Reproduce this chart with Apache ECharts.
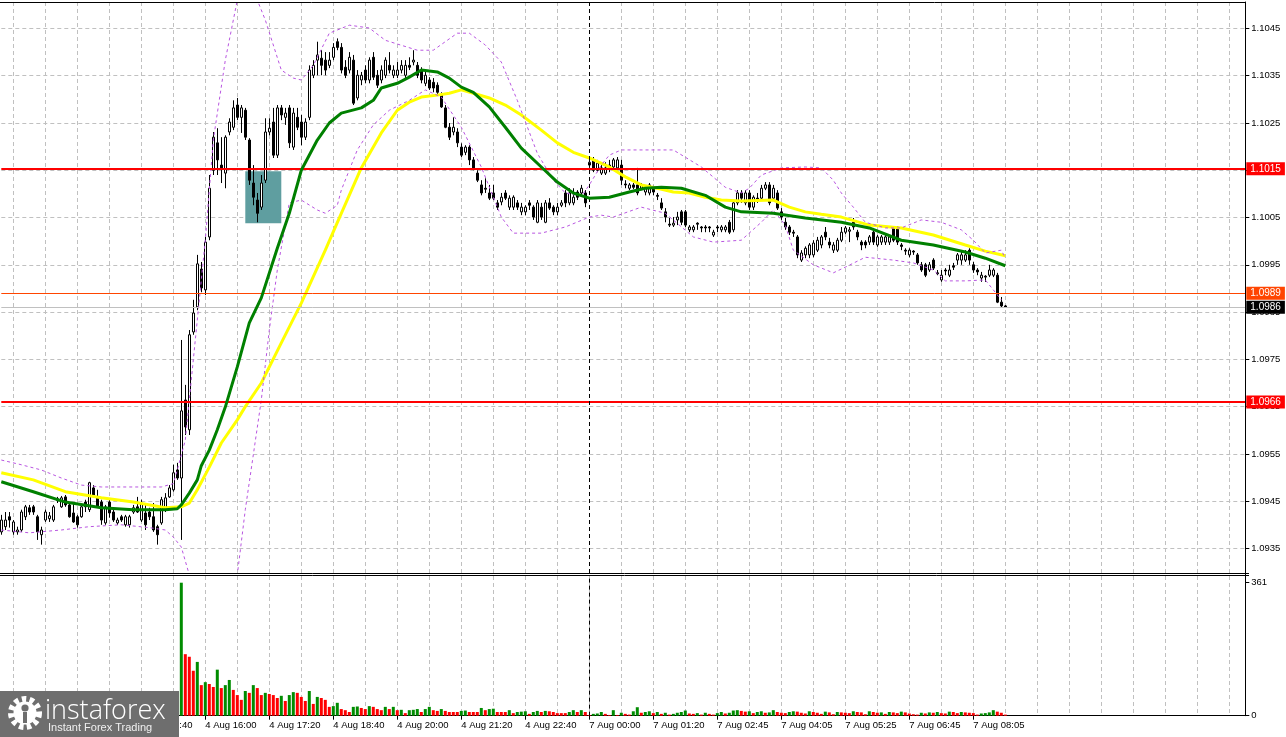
<!DOCTYPE html>
<html><head><meta charset="utf-8">
<script src="https://cdn.jsdelivr.net/npm/echarts@6/dist/echarts.min.js"></script>
<style>html,body{margin:0;padding:0;background:#fff;}#c{width:1286px;height:737px;}</style>
</head><body><div id="c"></div>
<script>
// ---- data (EURUSD M5, 4 Aug 11:45 .. 7 Aug 08:45) ----
const opens = [
1.09385,1.09396,1.09417,1.09385,1.09385,1.09389,1.09417,1.09436,1.09438,1.09417,
1.09379,1.09410,1.09413,1.09410,1.09455,1.09438,1.09459,1.09442,1.09425,1.09417,
1.09417,1.09448,1.09432,1.09478,1.09459,1.09448,1.09404,1.09448,1.09427,1.09404,
1.09417,1.09400,1.09400,1.09427,1.09438,1.09410,1.09425,1.09427,1.09417,1.09396,
1.09404,1.09432,1.09459,1.09474,1.09516,1.09499,1.09664,1.09601,1.09808,1.09861,
1.09941,1.09897,1.10009,1.10150,1.10208,1.10161,1.10144,1.10231,1.10241,1.10288,
1.10262,1.10277,1.10214,1.10123,1.10087,1.10072,1.10129,1.10231,1.10252,1.10182,
1.10282,1.10262,1.10282,1.10199,1.10262,1.10252,1.10220,1.10262,1.10351,1.10383,
1.10387,1.10383,1.10372,1.10389,1.10422,1.10410,1.10368,1.10362,1.10383,1.10303,
1.10341,1.10362,1.10341,1.10389,1.10351,1.10341,1.10351,1.10372,1.10351,1.10351,
1.10362,1.10351,1.10372,1.10379,1.10372,1.10362,1.10334,1.10341,1.10336,1.10330,
1.10309,1.10282,1.10241,1.10231,1.10231,1.10199,1.10188,1.10199,1.10172,1.10144,
1.10119,1.10112,1.10102,1.10102,1.10081,1.10083,1.10102,1.10072,1.10072,1.10081,
1.10062,1.10062,1.10081,1.10072,1.10040,1.10072,1.10040,1.10081,1.10072,1.10062,
1.10076,1.10102,1.10081,1.10081,1.10104,1.10102,1.10102,1.10161,1.10172,1.10150,
1.10144,1.10144,1.10161,1.10157,1.10155,1.10161,1.10121,1.10112,1.10119,1.10119,
1.10112,1.10104,1.10102,1.10112,1.10097,1.10081,1.10062,1.10036,1.10034,1.10045,
1.10062,1.10062,1.10024,1.10024,1.10038,1.10030,1.10030,1.10030,1.10013,1.10030,
1.10024,1.10024,1.10040,1.10024,1.10081,1.10102,1.10081,1.10102,1.10072,1.10091,
1.10091,1.10112,1.10119,1.10091,1.10102,1.10062,1.10040,1.10030,1.10019,1.10009,
1.09960,1.09971,1.09971,1.09971,1.09981,1.09992,1.10019,1.09998,1.09981,1.09981,
1.10002,1.10019,1.10021,1.10040,1.10019,1.09998,1.09998,1.09998,1.10019,1.09992,
1.09998,1.09998,1.09998,1.10030,1.10030,1.09992,1.09981,1.09971,1.09979,1.09971,
1.09950,1.09950,1.09939,1.09960,1.09933,1.09918,1.09939,1.09928,1.09948,1.09960,
1.09960,1.09960,1.09981,1.09950,1.09939,1.09922,1.09926,1.09928,1.09928,1.09928,
1.09871,1.09863];
const closes = [
1.09410,1.09410,1.09410,1.09406,1.09389,1.09427,1.09438,1.09427,1.09427,1.09385,
1.09389,1.09427,1.09419,1.09438,1.09451,1.09457,1.09442,1.09417,1.09406,1.09400,
1.09438,1.09438,1.09489,1.09463,1.09438,1.09410,1.09438,1.09425,1.09410,1.09410,
1.09410,1.09417,1.09417,1.09436,1.09427,1.09446,1.09400,1.09417,1.09389,1.09379,
1.09453,1.09457,1.09478,1.09510,1.09499,1.09641,1.09607,1.09802,1.09848,1.09952,
1.09901,1.09998,1.10112,1.10220,1.10172,1.10155,1.10220,1.10252,1.10282,1.10262,
1.10282,1.10220,1.10129,1.10093,1.10059,1.10123,1.10231,1.10239,1.10182,1.10282,
1.10267,1.10271,1.10208,1.10271,1.10241,1.10220,1.10252,1.10362,1.10372,1.10394,
1.10372,1.10362,1.10383,1.10410,1.10410,1.10362,1.10351,1.10389,1.10292,1.10351,
1.10351,1.10341,1.10383,1.10347,1.10330,1.10362,1.10383,1.10362,1.10362,1.10362,
1.10372,1.10372,1.10368,1.10383,1.10351,1.10341,1.10351,1.10324,1.10324,1.10315,
1.10284,1.10241,1.10220,1.10241,1.10208,1.10182,1.10199,1.10172,1.10155,1.10129,
1.10102,1.10110,1.10091,1.10091,1.10072,1.10093,1.10091,1.10091,1.10093,1.10072,
1.10072,1.10072,1.10076,1.10051,1.10081,1.10051,1.10081,1.10070,1.10062,1.10072,
1.10081,1.10081,1.10102,1.10093,1.10093,1.10112,1.10081,1.10167,1.10150,1.10165,
1.10155,1.10155,1.10153,1.10172,1.10172,1.10129,1.10119,1.10119,1.10114,1.10102,
1.10119,1.10112,1.10119,1.10104,1.10095,1.10070,1.10051,1.10034,1.10038,1.10051,
1.10040,1.10034,1.10030,1.10030,1.10036,1.10028,1.10028,1.10028,1.10019,1.10028,
1.10030,1.10030,1.10019,1.10081,1.10102,1.10091,1.10102,1.10072,1.10093,1.10089,
1.10112,1.10119,1.10081,1.10112,1.10070,1.10051,1.10030,1.10019,1.10017,1.09971,
1.09975,1.09985,1.09992,1.09996,1.10002,1.10009,1.10009,1.09992,1.09992,1.10002,
1.10019,1.10028,1.10024,1.10030,1.10009,1.09992,1.09992,1.10009,1.09998,1.10009,
1.10009,1.10009,1.10009,1.10002,1.09998,1.09989,1.09979,1.09981,1.09977,1.09954,
1.09939,1.09928,1.09950,1.09943,1.09931,1.09928,1.09937,1.09939,1.09945,1.09971,
1.09971,1.09971,1.09960,1.09939,1.09935,1.09928,1.09924,1.09939,1.09939,1.09871,
1.09863,1.09860];
const highs = [
1.09421,1.09427,1.09427,1.09410,1.09396,1.09432,1.09442,1.09442,1.09442,1.09421,
1.09396,1.09432,1.09427,1.09442,1.09459,1.09461,1.09463,1.09446,1.09446,1.09421,
1.09442,1.09453,1.09491,1.09484,1.09474,1.09453,1.09442,1.09453,1.09436,1.09415,
1.09421,1.09421,1.09421,1.09442,1.09459,1.09453,1.09446,1.09436,1.09446,1.09400,
1.09459,1.09467,1.09484,1.09527,1.09531,1.09791,1.09696,1.09812,1.09876,1.09971,
1.09956,1.10009,1.10140,1.10231,1.10239,1.10220,1.10224,1.10260,1.10298,1.10303,
1.10288,1.10282,1.10218,1.10161,1.10102,1.10140,1.10260,1.10260,1.10282,1.10288,
1.10288,1.10282,1.10288,1.10282,1.10282,1.10267,1.10260,1.10372,1.10383,1.10422,
1.10404,1.10400,1.10400,1.10419,1.10429,1.10419,1.10383,1.10400,1.10394,1.10362,
1.10358,1.10372,1.10389,1.10400,1.10362,1.10372,1.10389,1.10400,1.10372,1.10379,
1.10383,1.10383,1.10389,1.10404,1.10379,1.10368,1.10358,1.10347,1.10345,1.10336,
1.10315,1.10288,1.10250,1.10262,1.10239,1.10207,1.10203,1.10203,1.10178,1.10150,
1.10129,1.10133,1.10119,1.10119,1.10087,1.10102,1.10108,1.10097,1.10097,1.10087,
1.10081,1.10076,1.10087,1.10076,1.10087,1.10081,1.10087,1.10091,1.10076,1.10081,
1.10087,1.10108,1.10112,1.10112,1.10108,1.10119,1.10108,1.10172,1.10178,1.10172,
1.10161,1.10167,1.10172,1.10176,1.10178,1.10172,1.10129,1.10123,1.10123,1.10155,
1.10123,1.10117,1.10123,1.10117,1.10102,1.10091,1.10070,1.10049,1.10051,1.10062,
1.10066,1.10066,1.10034,1.10034,1.10040,1.10032,1.10034,1.10032,1.10024,1.10034,
1.10034,1.10034,1.10045,1.10087,1.10108,1.10108,1.10108,1.10108,1.10097,1.10102,
1.10119,1.10125,1.10125,1.10119,1.10108,1.10070,1.10049,1.10034,1.10024,1.10013,
1.09981,1.09989,1.09996,1.10002,1.10009,1.10013,1.10030,1.10007,1.09998,1.10007,
1.10030,1.10032,1.10030,1.10049,1.10024,1.10002,1.10002,1.10013,1.10028,1.10013,
1.10013,1.10013,1.10013,1.10032,1.10032,1.09996,1.09985,1.09985,1.09981,1.09975,
1.09956,1.09954,1.09956,1.09964,1.09939,1.09939,1.09943,1.09950,1.09954,1.09975,
1.09977,1.09981,1.09985,1.09956,1.09943,1.09935,1.09928,1.09950,1.09943,1.09933,
1.09882,1.09865];
const lows = [
1.09379,1.09389,1.09394,1.09379,1.09379,1.09385,1.09410,1.09421,1.09421,1.09368,
1.09358,1.09406,1.09406,1.09406,1.09446,1.09436,1.09438,1.09415,1.09404,1.09394,
1.09415,1.09427,1.09427,1.09459,1.09436,1.09400,1.09400,1.09415,1.09406,1.09400,
1.09406,1.09396,1.09394,1.09423,1.09425,1.09406,1.09389,1.09410,1.09385,1.09358,
1.09400,1.09427,1.09457,1.09470,1.09495,1.09368,1.09590,1.09590,1.09802,1.09854,
1.09892,1.09886,1.10002,1.10140,1.10140,1.10123,1.10112,1.10224,1.10235,1.10256,
1.10229,1.10214,1.10119,1.10076,1.10040,1.10066,1.10123,1.10224,1.10176,1.10176,
1.10256,1.10246,1.10197,1.10193,1.10235,1.10203,1.10214,1.10256,1.10345,1.10351,
1.10351,1.10351,1.10366,1.10383,1.10404,1.10355,1.10345,1.10355,1.10288,1.10298,
1.10330,1.10334,1.10334,1.10341,1.10324,1.10334,1.10345,1.10355,1.10345,1.10345,
1.10355,1.10345,1.10362,1.10372,1.10345,1.10334,1.10328,1.10320,1.10315,1.10309,
1.10282,1.10239,1.10214,1.10224,1.10199,1.10178,1.10182,1.10161,1.10150,1.10125,
1.10097,1.10102,1.10087,1.10087,1.10066,1.10076,1.10087,1.10066,1.10066,1.10066,
1.10055,1.10055,1.10066,1.10045,1.10038,1.10045,1.10038,1.10066,1.10055,1.10055,
1.10072,1.10072,1.10076,1.10076,1.10087,1.10097,1.10072,1.10155,1.10146,1.10146,
1.10140,1.10140,1.10146,1.10150,1.10150,1.10119,1.10112,1.10108,1.10110,1.10097,
1.10108,1.10097,1.10097,1.10097,1.10087,1.10066,1.10040,1.10030,1.10030,1.10034,
1.10034,1.10030,1.10019,1.10019,1.10024,1.10019,1.10019,1.10019,1.10009,1.10019,
1.10019,1.10019,1.10015,1.10019,1.10076,1.10081,1.10076,1.10066,1.10066,1.10081,
1.10087,1.10108,1.10076,1.10087,1.10066,1.10045,1.10024,1.10013,1.10009,1.09964,
1.09956,1.09964,1.09964,1.09966,1.09977,1.09985,1.10002,1.09985,1.09975,1.09977,
1.09998,1.10015,1.09998,1.10024,1.10002,1.09981,1.09985,1.09992,1.09992,1.09988,
1.09992,1.09992,1.09992,1.09998,1.09992,1.09981,1.09971,1.09966,1.09971,1.09950,
1.09935,1.09924,1.09935,1.09939,1.09928,1.09914,1.09928,1.09924,1.09939,1.09950,
1.09950,1.09956,1.09950,1.09933,1.09928,1.09914,1.09914,1.09924,1.09924,1.09869,
1.09859,1.09859];
const volumes = [
22,18,25,15,12,30,28,20,17,35,26,19,14,31,27,22,18,29,33,24,21,16,40,28,25,30,22,18,15,12,
10,14,13,17,20,26,24,19,31,38,35,29,33,45,52,
361,
167,160,122,146,83,91,86,78,125,75,
83,97,70,56,43,67,62,83,75,56,
62,59,56,48,54,40,56,64,62,51,
40,67,32,51,48,43,24,26,35,18,
15,10,24,25,21,18,26,24,18,15,
24,18,24,15,16,7,15,16,18,10,
18,24,15,13,18,13,10,10,10,13,
14,10,10,10,21,15,18,19,10,10,
10,15,7,10,11,12,5,10,13,10,
13,12,10,7,7,7,10,15,10,15,
10,2,5,6,10,5,2,15,2,
8,5,3,12,23,8,10,12,7,10,
5,8,3,5,8,10,14,6,5,7,
3,8,5,3,7,10,6,8,14,15,
13,11,12,7,10,12,8,9,15,10,
8,7,10,12,11,8,6,12,10,8,
5,11,9,4,10,9,8,7,12,10,
9,4,12,10,8,9,5,10,9,7,
11,9,6,4,3,8,6,9,8,10,
7,6,11,10,7,10,9,8,7,3,
6,7,9,15,11,8,3];
// moving averages / bands: [bar index, price]
const maGreen = [[0,1.09491],[8,1.09470],[16,1.09448],[25,1.09436],[33,1.09432],[41,1.09432],[44,1.09434],[45,1.09442],[47,1.09467],[49,1.09495],[50,1.09525],[52,1.09558],[54,1.09601],[56,1.09649],[59,1.09734],[62,1.09827],[65,1.09880],[69,1.09985],[72,1.10059],[75,1.10150],[79,1.10214],[82,1.10250],[85,1.10271],[90,1.10282],[93,1.10298],[95,1.10324],[99,1.10334],[102,1.10347],[105,1.10362],[109,1.10358],[112,1.10345],[115,1.10326],[118,1.10315],[122,1.10284],[126,1.10241],[130,1.10197],[135,1.10157],[139,1.10125],[143,1.10102],[147,1.10091],[152,1.10093],[157,1.10104],[161,1.10112],[165,1.10114],[170,1.10112],[176,1.10097],[181,1.10072],[185,1.10062],[193,1.10059],[201,1.10049],[210,1.10040],[217,1.10028],[225,1.10002],[233,1.09992],[241,1.09977],[246,1.09964],[251,1.09948]];
const maYellow = [[0,1.09510],[8,1.09495],[16,1.09470],[25,1.09457],[33,1.09448],[41,1.09436],[45,1.09438],[47,1.09446],[49,1.09474],[52,1.09522],[55,1.09573],[59,1.09622],[61,1.09650],[65,1.09700],[70,1.09785],[75,1.09869],[81,1.09981],[85,1.10059],[90,1.10155],[95,1.10229],[99,1.10277],[102,1.10294],[105,1.10305],[109,1.10309],[112,1.10313],[115,1.10320],[118,1.10313],[122,1.10303],[126,1.10288],[130,1.10267],[135,1.10235],[139,1.10208],[143,1.10188],[147,1.10176],[152,1.10157],[156,1.10136],[160,1.10119],[164,1.10112],[168,1.10104],[172,1.10102],[176,1.10093],[180,1.10087],[185,1.10085],[193,1.10087],[197,1.10072],[201,1.10062],[205,1.10057],[210,1.10051],[217,1.10034],[225,1.10028],[233,1.10013],[241,1.09992],[246,1.09979],[251,1.09969]];
const bbUpper = [[0,1.09537],[5,1.09527],[10,1.09516],[15,1.09499],[20,1.09484],[25,1.09480],[32,1.09480],[40,1.09480],[43,1.09487],[44,1.09516],[46,1.09579],[48,1.09749],[51,1.10002],[53,1.10214],[56,1.10383],[59,1.10510],[61,1.10552],[63,1.10531],[66,1.10468],[68,1.10415],[70,1.10362],[73,1.10345],[75,1.10341],[78,1.10372],[82,1.10440],[87,1.10457],[92,1.10451],[96,1.10425],[104,1.10404],[108,1.10404],[111,1.10422],[114,1.10440],[117,1.10440],[121,1.10415],[125,1.10379],[129,1.10298],[134,1.10186],[138,1.10129],[141,1.10102],[145,1.10095],[147,1.10119],[150,1.10161],[152,1.10182],[155,1.10193],[168,1.10193],[175,1.10157],[181,1.10114],[185,1.10102],[187,1.10112],[190,1.10140],[195,1.10155],[201,1.10157],[205,1.10155],[208,1.10129],[210,1.10102],[213,1.10072],[216,1.10040],[221,1.10028],[225,1.10028],[230,1.10045],[235,1.10040],[240,1.10024],[243,1.10002],[246,1.09975],[250,1.09981],[251,1.09964]];
const bbLower = [[0,1.09389],[7,1.09383],[15,1.09389],[22,1.09396],[30,1.09400],[37,1.09394],[41,1.09389],[43,1.09374],[45,1.09353],[47,1.09294],[50,1.09199],[53,1.09030],[57,1.09072],[59,1.09294],[61,1.09432],[63,1.09548],[65,1.09664],[67,1.09812],[69,1.09939],[72,1.10081],[75,1.10087],[79,1.10066],[81,1.10059],[84,1.10076],[85,1.10108],[89,1.10193],[93,1.10246],[97,1.10277],[102,1.10298],[106,1.10320],[110,1.10305],[115,1.10241],[120,1.10157],[125,1.10051],[128,1.10017],[135,1.10017],[141,1.10030],[147,1.10051],[150,1.10055],[153,1.10051],[160,1.10072],[166,1.10059],[173,1.10009],[178,1.09998],[185,1.10002],[190,1.10040],[193,1.10066],[196,1.10034],[198,1.09981],[203,1.09950],[208,1.09933],[211,1.09945],[216,1.09966],[223,1.09960],[228,1.09954],[233,1.09939],[236,1.09916],[241,1.09916],[246,1.09918],[250,1.09876]];
const priceTicks = [1.0935,1.0945,1.0955,1.0965,1.0975,1.0985,1.0995,1.1005,1.1015,1.1025,1.1035,1.1045];
const volumeTicks = [0, 361];
const timeLabels = ['4 Aug 12:00','4 Aug 13:20','4 Aug 14:40','4 Aug 16:00','4 Aug 17:20','4 Aug 18:40','4 Aug 20:00','4 Aug 21:20','4 Aug 22:40','7 Aug 00:00','7 Aug 01:20','7 Aug 02:45','7 Aug 04:05','7 Aug 05:25','7 Aug 06:45','7 Aug 08:05'];
const levelRed = [1.10153, 1.0966];
const levelOrange = 1.0989;
const levelBid = 1.0986;
const zoneBox = {fromBar: 61, toBar: 70, top: 1.10148, bottom: 1.10038};
const separatorBar = 147;
const totalSlots = 312;

// ---- build ----
const FONT = 'Liberation Sans';
const cats = []; for (let i = 0; i < totalSlots; i++) cats.push(String(i));
const candleData = opens.map((o, i) => [o, closes[i], lows[i], highs[i]]);
const volData = volumes.map((v, i) => ({value: v, itemStyle: {color: (i === 0 || v > volumes[i - 1]) ? '#008c00' : '#ff0000'}}));
const gridIv = (i) => (i - 3) % 8 === 0;
const labIv = (i) => i >= 3 && (i - 3) % 16 === 0 && (i - 3) / 16 < timeLabels.length;
const tag = (bg) => ({show: true, position: 'end', distance: 1, color: '#fff', backgroundColor: bg, padding: [2, 4, 1, 4], fontFamily: FONT, fontSize: 10, formatter: (p) => Number(p.value).toFixed(4)});
const gridLine = {show: true, lineStyle: {color: '#c0c0c0', type: [4, 3], width: 1}};

const chart = echarts.init(document.getElementById('c'), null, {renderer: 'canvas'});
chart.setOption({
  animation: false,
  backgroundColor: '#ffffff',
  grid: [
    {left: 1.3, top: 2, width: 1244, height: 571},
    {left: 1.3, top: 576, width: 1244, height: 139.7}
  ],
  xAxis: [
    {type: 'category', gridIndex: 0, data: cats, boundaryGap: false,
     axisLine: {show: false}, axisTick: {show: false}, axisLabel: {show: false},
     splitLine: Object.assign({interval: gridIv}, gridLine)},
    {type: 'category', gridIndex: 1, data: cats, boundaryGap: false,
     axisLine: {show: true, lineStyle: {color: '#000', width: 1}},
     axisTick: {show: true, interval: labIv, length: 4, lineStyle: {color: '#000'}},
     axisLabel: {show: true, interval: labIv, align: 'left', margin: 5, color: '#000', fontFamily: FONT, fontSize: 9.5,
       formatter: (v) => { const k = (Number(v) - 3) / 16; return timeLabels[k] || ''; }},
     splitLine: Object.assign({interval: gridIv}, gridLine)}
  ],
  yAxis: [
    {type: 'value', gridIndex: 0, position: 'right', min: 1.09298, max: 1.10506, scale: true,
     axisLine: {show: true, lineStyle: {color: '#000'}},
     axisTick: {show: true, customValues: priceTicks, length: 4, lineStyle: {color: '#000'}},
     axisLabel: {customValues: priceTicks, margin: 6, color: '#000', fontFamily: FONT, fontSize: 9.5, formatter: (v) => Number(v).toFixed(4)},
     splitLine: gridLine},
    {type: 'value', gridIndex: 1, position: 'right', min: 0, max: 379.2,
     axisLine: {show: true, lineStyle: {color: '#000'}},
     axisTick: {show: true, customValues: volumeTicks, length: 4, lineStyle: {color: '#000'}},
     axisLabel: {customValues: volumeTicks, margin: 6, color: '#000', fontFamily: FONT, fontSize: 9.5, formatter: (v) => String(Math.round(v))},
     splitLine: {show: false}}
  ],
  series: [
    {type: 'candlestick', name: 'EURUSD', xAxisIndex: 0, yAxisIndex: 0, data: candleData, barWidth: 2, z: 3,
     itemStyle: {color: '#ffffff', color0: '#000000', borderColor: '#000000', borderColor0: '#000000', borderWidth: 1},
     markArea: {silent: true, label: {show: false}, itemStyle: {color: '#5f9ea0', opacity: 1},
       data: [[{xAxis: String(zoneBox.fromBar), yAxis: zoneBox.top}, {xAxis: String(zoneBox.toBar), yAxis: zoneBox.bottom}]]},
     markLine: {symbol: 'none', silent: true, animation: false, precision: 5,
       data: [
         {yAxis: levelRed[0], lineStyle: {color: '#ff0000', width: 2, type: 'solid'}, label: tag('#ff0000')},
         {yAxis: levelRed[1], lineStyle: {color: '#ff0000', width: 2, type: 'solid'}, label: tag('#ff0000')},
         {yAxis: levelOrange, lineStyle: {color: '#ff4500', width: 1, type: 'solid'}, label: tag('#ff4500')},
         {yAxis: levelBid, lineStyle: {color: '#c0c0c0', width: 1, type: 'solid'}, label: tag('#000000')},
         {xAxis: String(separatorBar), lineStyle: {color: '#000', width: 1, type: [4, 3]}, label: {show: false}}
       ]}},
    {type: 'line', name: 'MA slow', xAxisIndex: 0, yAxisIndex: 0, data: maYellow, symbol: 'none', silent: true, z: 4,
     lineStyle: {color: '#ffff00', width: 3}},
    {type: 'line', name: 'MA fast', xAxisIndex: 0, yAxisIndex: 0, data: maGreen, symbol: 'none', silent: true, z: 5,
     lineStyle: {color: '#008000', width: 3}},
    {type: 'line', name: 'BB upper', xAxisIndex: 0, yAxisIndex: 0, data: bbUpper, symbol: 'none', silent: true, z: 4,
     lineStyle: {color: '#b855e0', width: 1, type: [3, 3]}},
    {type: 'line', name: 'BB lower', xAxisIndex: 0, yAxisIndex: 0, data: bbLower, symbol: 'none', silent: true, z: 4,
     lineStyle: {color: '#b855e0', width: 1, type: [3, 3]}},
    {type: 'bar', name: 'Volumes', xAxisIndex: 1, yAxisIndex: 1, data: volData, barWidth: 3, z: 3,
     markLine: {symbol: 'none', silent: true, animation: false, label: {show: false},
       lineStyle: {color: '#000', width: 1, type: [4, 3]}, data: [{xAxis: String(separatorBar)}]}}
  ],
  graphic: [
    {type: 'line', z: 50, shape: {x1: 0, y1: 2.5, x2: 1246, y2: 2.5}, style: {stroke: '#000', lineWidth: 1}},
    {type: 'line', z: 50, shape: {x1: 0, y1: 573.5, x2: 1249, y2: 573.5}, style: {stroke: '#000', lineWidth: 1}},
    {type: 'line', z: 50, shape: {x1: 0, y1: 575.5, x2: 1249, y2: 575.5}, style: {stroke: '#000', lineWidth: 1}},
    {type: 'line', z: 50, shape: {x1: 1245.5, y1: 2, x2: 1245.5, y2: 716}, style: {stroke: '#000', lineWidth: 1}},
    {type: 'group', z: 100, children: [
      {type: 'rect', z: 100, shape: {x: 0, y: 691, width: 179, height: 46}, style: {fill: '#6e6e6e'}},
      {type: 'circle', z: 101, shape: {cx: 25, cy: 713, r: 14}, style: {fill: 'none', stroke: '#ffffff', lineWidth: 6, lineDash: [4.4, 3.4]}},
      {type: 'circle', z: 102, shape: {cx: 25, cy: 713, r: 11.5}, style: {fill: '#ffffff'}},
      {type: 'circle', z: 103, shape: {cx: 25, cy: 708, r: 3.6}, style: {fill: '#6e6e6e'}},
      {type: 'rect', z: 103, shape: {x: 23, y: 712, width: 4, height: 11}, style: {fill: '#6e6e6e'}},
      {type: 'text', z: 103, style: {x: 45, y: 711, text: 'instaforex', fill: '#ffffff', fontFamily: 'Open Sans', fontSize: 27, fontWeight: 300, verticalAlign: 'middle'}},
      {type: 'text', z: 103, style: {x: 48, y: 728, text: 'Instant Forex Trading', fill: '#f0f0f0', fontFamily: FONT, fontSize: 11, verticalAlign: 'middle'}}
    ]}
  ]
});
</script>
</body></html>
